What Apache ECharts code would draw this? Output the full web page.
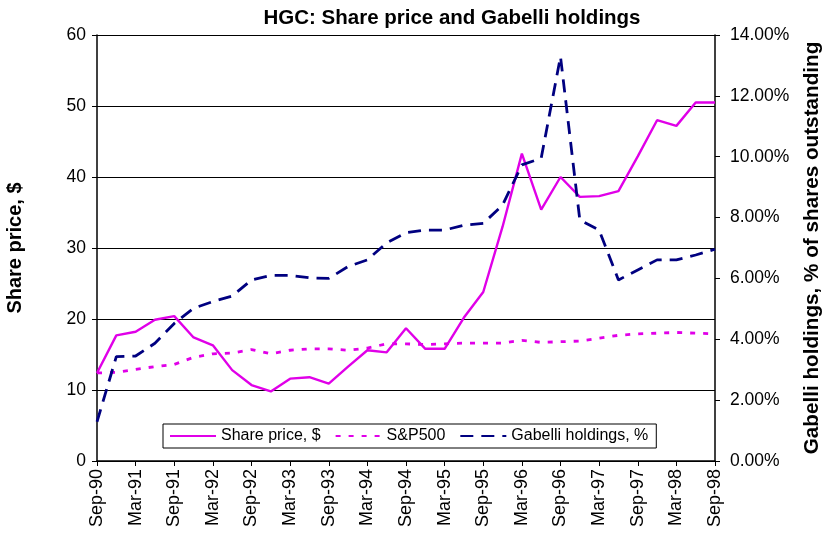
<!DOCTYPE html>
<html>
<head>
<meta charset="utf-8">
<script src="https://cdn.jsdelivr.net/npm/echarts@6/dist/echarts.min.js"></script>
<style>html,body{margin:0;padding:0;background:#fff}#c{width:823px;height:536px}</style>
</head>
<body>
<div id="c"></div>
<script>
const categories = ['Sep-90','Dec-90','Mar-91','Jun-91','Sep-91','Dec-91','Mar-92','Jun-92','Sep-92','Dec-92','Mar-93','Jun-93','Sep-93','Dec-93','Mar-94','Jun-94','Sep-94','Dec-94','Mar-95','Jun-95','Sep-95','Dec-95','Mar-96','Jun-96','Sep-96','Dec-96','Mar-97','Jun-97','Sep-97','Dec-97','Mar-98','Jun-98','Sep-98'];
const sharePrice = [12.4,17.7,18.2,19.9,20.4,17.4,16.3,12.8,10.7,9.8,11.6,11.8,10.9,13.3,15.6,15.3,18.7,15.8,15.8,20.2,23.8,33.0,43.3,35.4,40.0,37.2,37.3,38.0,42.9,48.0,47.2,50.5,50.5];
const sp500 = [12.4,12.5,12.9,13.3,13.6,14.6,15.1,15.2,15.7,15.1,15.6,15.8,15.8,15.6,15.9,16.5,16.5,16.4,16.5,16.6,16.6,16.6,17.0,16.7,16.8,16.9,17.3,17.7,17.9,18.0,18.1,18.0,17.9];
const gabelli = [1.29,3.43,3.45,3.87,4.52,5.02,5.24,5.42,5.95,6.10,6.10,6.02,6.00,6.39,6.61,7.17,7.50,7.59,7.59,7.75,7.81,8.41,9.73,9.95,13.29,7.92,7.59,5.95,6.28,6.61,6.61,6.77,6.96];
const leftTicks = {min:0, max:60, interval:10};
const rightTicks = {min:0, max:14, interval:2};

const chart = echarts.init(document.getElementById('c'));
const font = 'Liberation Sans, Arial, sans-serif';
chart.setOption({
  animation:false,
  backgroundColor:'#fff',
  title:{text:'HGC: Share price and Gabelli holdings', left:447, textAlign:'center', top:3,
    textStyle:{fontFamily:font, fontSize:20.5, fontWeight:'bold', color:'#000'}},
  grid:{left:97, right:108, top:35, bottom:75, containLabel:false, outerBoundsMode:'none'},
  legend:{
    left:163, top:424, width:494, height:19,
    itemGap:14, itemWidth:46, itemHeight:10,
    borderColor:'#000', borderWidth:1, padding:[4,8,4,6],
    backgroundColor:'#fff',
    itemStyle:{opacity:0},
    textStyle:{fontFamily:font, fontSize:16, color:'#000'},
    data:['Share price, $','S&P500','Gabelli holdings, %']
  },
  xAxis:{
    type:'category', data:categories, boundaryGap:false,
    axisLine:{lineStyle:{color:'#000', width:1.5}},
    axisTick:{interval:1, length:5, lineStyle:{color:'#000'}},
    axisLabel:{interval:1, rotate:90, fontFamily:font, fontSize:18, color:'#000', margin:8},
    splitLine:{show:false}
  },
  yAxis:[
    {type:'value', min:leftTicks.min, max:leftTicks.max, interval:leftTicks.interval,
     name:'Share price, $', nameLocation:'middle', nameGap:72, nameRotate:90,
     nameTextStyle:{fontFamily:font, fontSize:20, fontWeight:'bold', color:'#000'},
     axisLine:{show:true, lineStyle:{color:'#000', width:1.5}},
     axisTick:{show:true, length:5, lineStyle:{color:'#000'}},
     axisLabel:{fontFamily:font, fontSize:17.5, color:'#000', margin:11},
     splitLine:{show:true, lineStyle:{color:'#000', width:1}}},
    {type:'value', min:rightTicks.min, max:rightTicks.max, interval:rightTicks.interval, position:'right',
     name:'Gabelli holdings, % of shares outstanding', nameLocation:'middle', nameGap:87, nameRotate:90,
     nameTextStyle:{fontFamily:font, fontSize:20.7, fontWeight:'bold', color:'#000'},
     axisLine:{show:true, lineStyle:{color:'#000', width:1.5}},
     axisTick:{show:true, length:5, inside:false, lineStyle:{color:'#000'}},
     axisLabel:{fontFamily:font, fontSize:17.5, color:'#000', margin:15, formatter:v=>v.toFixed(2)+'%'},
     splitLine:{show:false}}
  ],
  series:[
    {name:'Share price, $', type:'line', data:sharePrice, yAxisIndex:0, symbol:'none',
     lineStyle:{color:'#E000E8', width:2.4}, itemStyle:{color:'#E000E8'}, z:3},
    {name:'S&P500', type:'line', data:sp500, yAxisIndex:0, symbol:'none',
     lineStyle:{color:'#E000E8', width:2.8, type:[5,8]}, itemStyle:{color:'#E000E8'}, z:2},
    {name:'Gabelli holdings, %', type:'line', data:gabelli, yAxisIndex:1, symbol:'none',
     lineStyle:{color:'#000080', width:2.8, type:[13,8]}, itemStyle:{color:'#000080'}, z:4}
  ]
});
</script>
</body>
</html>
